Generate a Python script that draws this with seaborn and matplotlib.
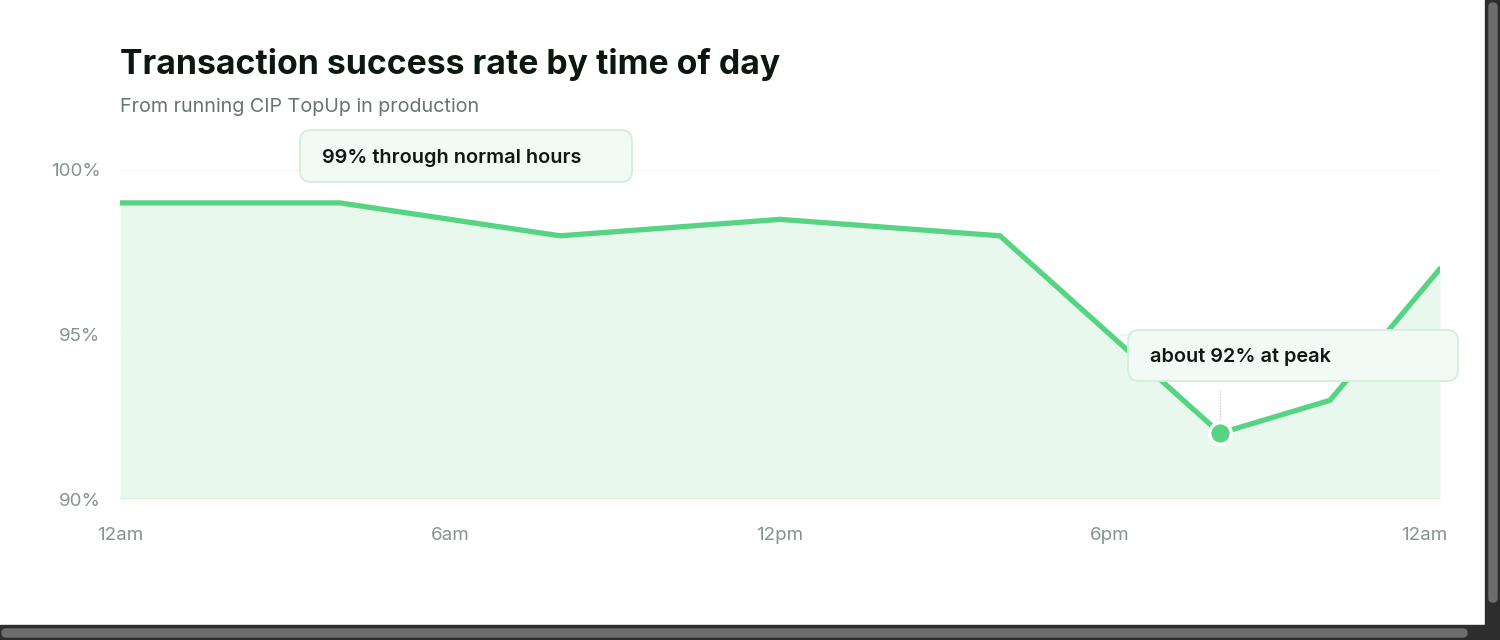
import matplotlib
matplotlib.use("Agg")
import matplotlib.pyplot as plt
from matplotlib.patches import FancyBboxPatch, Rectangle
from matplotlib.transforms import IdentityTransform, ScaledTranslation
import seaborn as sns
import pandas as pd

# ---- data ----
hours = [0, 4, 8, 12, 16, 20, 22, 24]
success_rate = [99.0, 99.0, 98.0, 98.5, 98.0, 92.0, 93.0, 97.0]
x_ticks = [0, 6, 12, 18, 24]
x_tick_labels = ["12am", "6am", "12pm", "6pm", "12am"]
y_ticks = [90, 95, 100]
y_tick_labels = ["90%", "95%", "100%"]
title = "Transaction success rate by time of day"
subtitle = "From running CIP TopUp in production"
note_normal = "99% through normal hours"
note_peak = "about 92% at peak"
peak_index = 5

df = pd.DataFrame({"hour": hours, "rate": success_rate})

sns.set_theme(style="white")
plt.rcParams["font.family"] = ["Inter", "DejaVu Sans"]

W, H, DPI = 1500, 640, 100
fig = plt.figure(figsize=(W / DPI, H / DPI), dpi=DPI, facecolor="white")

def fy(y):  # image-y (top-down) -> figure fraction
    return 1 - y / H

ax = fig.add_axes([120 / W, fy(499), 1320 / W, (499 - 170) / H])
ax.set_facecolor("none")

LINE = "#57d483"
FILL = "#e8f8ed"
TICK = "#87938c"

ax.fill_between(df["hour"], df["rate"], 90, color=FILL, lw=0, zorder=1)
sns.lineplot(data=df, x="hour", y="rate", ax=ax, color=LINE, lw=3.8,
             solid_capstyle="round", solid_joinstyle="miter", zorder=3)

ax.set_xlim(0, 24)
ax.set_ylim(90, 100)
for s in ax.spines.values():
    s.set_visible(False)

for yv in (95, 100):
    ax.axhline(yv, color="#eef5f0", lw=1.2, zorder=0.5)
ax.axhline(90, color="#dcefe2", lw=1.2, zorder=2)

ax.set_xticks(x_ticks)
ax.set_xticklabels(x_tick_labels)
ax.set_yticks(y_ticks)
ax.set_yticklabels(y_tick_labels)
ax.tick_params(axis="both", length=0, labelsize=13.5, labelcolor=TICK)
ax.tick_params(axis="y", pad=14)
ax.tick_params(axis="x", pad=20)
ax.set_xlabel("")
ax.set_ylabel("")
ax.grid(False)

last = ax.get_xticklabels()[-1]
last.set_horizontalalignment("right")
last.set_transform(last.get_transform() + ScaledTranslation(7 / DPI, 0, fig.dpi_scale_trans))

# peak marker and stem
px, py = hours[peak_index], success_rate[peak_index]
ax.plot([px, px], [py + 0.4, py + 1.35], color="#c9d3cd", lw=1, ls=(0, (1, 1)),
        zorder=2, clip_on=False)
ax.plot([px], [py], marker="o", ms=15.5, color=LINE, mec="white", mew=2.4,
        zorder=5, clip_on=False)

# titles
fig.text(120 / W, fy(74), title, fontsize=24.3, fontweight="bold",
         color="#0c1710", va="baseline", ha="left")
fig.text(120 / W, fy(112), subtitle, fontsize=14.2, color="#6b736f",
         va="baseline", ha="left")

# callout boxes (pixel coordinates)
ident = IdentityTransform()

def callout(x0, y0, x1, y1, text, tx):
    box = FancyBboxPatch((x0, H - y1), x1 - x0, y1 - y0,
                         boxstyle="round,pad=0,rounding_size=11",
                         transform=ident, facecolor="#f1faf4",
                         edgecolor="#d3eedc", lw=1.3, zorder=10)
    fig.add_artist(box)
    fig.text(tx / W, fy((y0 + y1) / 2 + 2), text, fontsize=14.3, fontweight="semibold",
             color="#101814", va="center", ha="left", zorder=11)

callout(300, 130, 632, 182, note_normal, 322)
callout(1128, 330, 1458, 381, note_peak, 1150)

# window frame artifacts
DARK = "#2d2d2d"
THUMB = "#6d6d6d"
fig.add_artist(Rectangle((1485, 0), 15, H, transform=ident, color=DARK, zorder=20))
fig.add_artist(Rectangle((0, 0), W, H - 625, transform=ident, color=DARK, zorder=20))
fig.add_artist(FancyBboxPatch((1489, H - 602), 8, 599,
                              boxstyle="round,pad=0,rounding_size=4",
                              transform=ident, color=THUMB, zorder=21))
fig.add_artist(FancyBboxPatch((2, H - 637), 1465, 8,
                              boxstyle="round,pad=0,rounding_size=4",
                              transform=ident, color=THUMB, zorder=21))

fig.savefig("out.png", dpi=DPI, facecolor="white")
